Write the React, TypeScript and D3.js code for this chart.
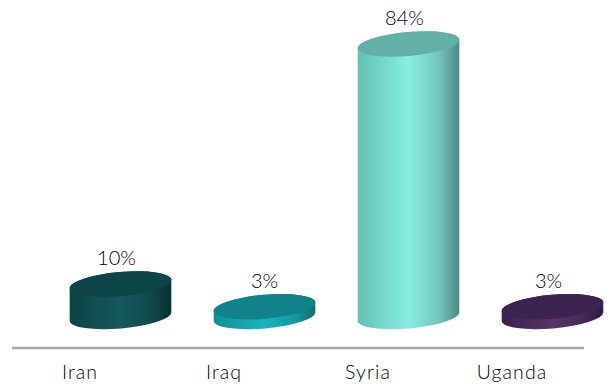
import React from "react";
import * as d3 from "d3";

const categories = ["Iran", "Iraq", "Syria", "Uganda"];
const values = [10, 3, 84, 3];
const valueLabels = ["10%", "3%", "84%", "3%"];
const topColors = ["#0c4547", "#12828a", "#62b0a6", "#3c2450"];
const sideEdgeLeft = ["#0b4245", "#0f8f98", "#62bfb3", "#3a2150"];
const sideCentre = ["#14595c", "#1ab4bd", "#89eee2", "#573469"];
const sideEdgeRight = ["#093034", "#0d6d74", "#4d8a84", "#2e1a40"];
const labelShift = [-4, 0, -4, -4];

const W = 609, H = 388;
const x = d3.scaleBand<string>().domain(categories).range([48.5, 624.5]);
const xLabel = d3.scaleBand<string>().domain(categories).range([8, 584]);
const y = d3.scaleLinear().domain([0, 84]).range([316.5, 44]);

const rx = 51, ry = 12, rot = -5;
const rad = (rot * Math.PI) / 180;
const dx = rx * Math.cos(rad), dy = rx * Math.sin(rad);

export default function App() {
  const font = "Lato, 'Open Sans', sans-serif";
  return (
    <svg width={W} height={H} style={{ position: "absolute", left: 0, top: 0, background: "#fff" }}>
      <defs>
        {categories.map((c, i) => (
          <linearGradient key={c} id={`side${i}`} x1="0" x2="1" y1="0" y2="0">
            <stop offset="0" stopColor={sideEdgeLeft[i]} />
            <stop offset="0.5" stopColor={sideCentre[i]} />
            <stop offset="0.8" stopColor={d3.interpolateRgb(sideCentre[i], sideEdgeRight[i])(0.4)} />
            <stop offset="1" stopColor={sideEdgeRight[i]} />
          </linearGradient>
        ))}
      </defs>
      {categories.map((c, i) => {
        const cx = (x(c) as number) + x.bandwidth() / 2;
        const yt = y(values[i]);
        const yb = y(0);
        const side = `M${cx - dx},${yt - dy} L${cx - dx},${yb - dy} A${rx},${ry} ${rot} 0 0 ${cx + dx},${yb + dy} L${cx + dx},${yt + dy} A${rx},${ry} ${rot} 0 0 ${cx - dx},${yt - dy} Z`;
        return (
          <g key={c}>
            <path d={side} fill={`url(#side${i})`} />
            <ellipse cx={cx} cy={yt} rx={rx} ry={ry} fill={topColors[i]} transform={`rotate(${rot} ${cx} ${yt})`} />
            <text x={cx + labelShift[i]} y={yt - 19} textAnchor="middle" fontFamily={font} fontWeight={300} fontSize={20} fill="#000">{valueLabels[i]}</text>
            <text x={(xLabel(c) as number) + xLabel.bandwidth() / 2} y={379} textAnchor="middle" fontFamily={font} fontWeight={300} fontSize={19.5} letterSpacing={1.1} fill="#000">{c}</text>
          </g>
        );
      })}
      <line x1={12} x2={584} y1={348} y2={348} stroke="#a6a6a6" strokeWidth={2.5} />
    </svg>
  );
}
